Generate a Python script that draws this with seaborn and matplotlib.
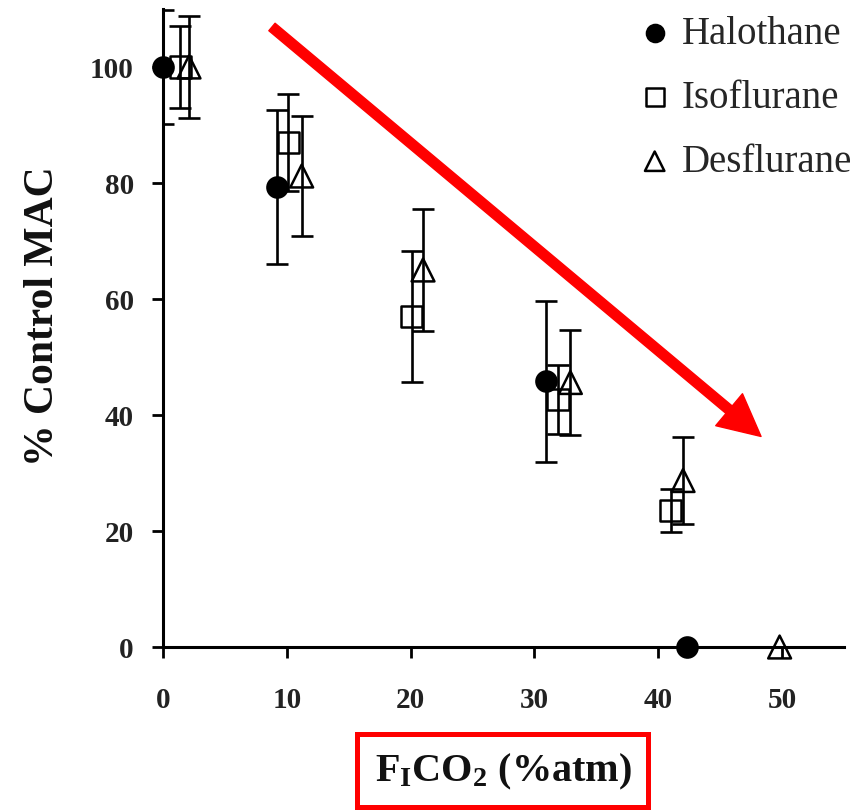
import numpy as np
import pandas as pd
import matplotlib
matplotlib.use("Agg")
import matplotlib.pyplot as plt
from matplotlib.patches import Rectangle
import seaborn as sns

# ---- data ----
halo_x = [0, 9.2, 30.9, 42.3]
halo_y = [100, 79.3, 45.8, 0]
halo_err = [9.8, 13.3, 13.9, 0]

iso_x = [1.4, 10.1, 20.1, 31.9, 41.0]
iso_y = [100, 87.0, 57.0, 42.7, 23.5]
iso_err = [7.0, 8.3, 11.3, 6.0, 3.7]

des_x = [2.1, 11.2, 21.0, 32.9, 42.0, 49.8]
des_y = [100, 81.2, 65.0, 45.6, 28.7, 0]
des_err = [8.8, 10.4, 10.6, 9.0, 7.5, 0]

series_names = ["Halothane", "Isoflurane", "Desflurane"]
x_ticks = [0, 10, 20, 30, 40, 50]
y_ticks = [0, 20, 40, 60, 80, 100]

sns.set_style("white")
plt.rcParams["font.family"] = ["Liberation Serif", "DejaVu Serif"]
plt.rcParams["mathtext.fontset"] = "custom"
plt.rcParams["mathtext.rm"] = "Liberation Serif:bold"
plt.rcParams["mathtext.bf"] = "Liberation Serif:bold"
plt.rcParams["mathtext.it"] = "Liberation Serif:bold"

W, H = 858, 812
fig = plt.figure(figsize=(W / 100, H / 100), dpi=100)
ax = fig.add_axes([163 / W, 1 - 648 / H, (844 - 163) / W, (648 - 10) / H])

data = [
    (halo_x, halo_y, halo_err, "o", "black", 210),
    (iso_x, iso_y, iso_err, "s", "none", 230),
    (des_x, des_y, des_err, "^", "none", 270),
]

for name, (xs, ys, es, mk, fc, sz) in zip(series_names, data):
    xs = np.asarray(xs, float); ys = np.asarray(ys, float); es = np.asarray(es, float)
    m = es > 0
    ax.errorbar(xs[m], ys[m], yerr=es[m], fmt="none", ecolor="black",
                elinewidth=1.9, capsize=8, capthick=1.9, zorder=2)
    df = pd.DataFrame({"x": xs, "y": ys})
    sns.scatterplot(data=df, x="x", y="y", marker=mk, s=sz, facecolor=fc,
                    edgecolor="black", linewidth=1.8, label=name, ax=ax,
                    zorder=3, clip_on=False)

ax.set_xlim(0, 55)
ax.set_ylim(0, 110)
ax.set_xticks(x_ticks)
ax.set_yticks(y_ticks)
ax.set_xticklabels([str(t) for t in x_ticks], fontsize=21, fontweight="bold", color="#222222")
ax.set_yticklabels([str(t) for t in y_ticks], fontsize=21, fontweight="bold", color="#222222")

for s in ["top", "right"]:
    ax.spines[s].set_visible(False)
for s in ["left", "bottom"]:
    ax.spines[s].set_linewidth(2.2)
    ax.spines[s].set_color("black")
ax.tick_params(axis="both", direction="out", length=8, width=2, color="black",
               left=True, bottom=True)
ax.tick_params(axis="x", pad=20)
ax.tick_params(axis="y", pad=13)

ax.set_ylabel("% Control MAC", fontsize=30, fontweight="bold", color="#111111")
ax.yaxis.set_label_coords(-0.149, 0.52)
xl = ax.set_xlabel(r"F$_\mathrm{I}$CO$_2$ (%atm)", fontsize=29, fontweight="bold",
                   color="#111111", va="center")
ax.xaxis.set_label_coords((503 - 163) / 681, (648 - 772) / 638)

# red frame around the x-axis title
fig.add_artist(Rectangle((357 / W, 1 - 808 / H), 291 / W, 73 / H,
                         transform=fig.transFigure, fill=False,
                         edgecolor="red", linewidth=3.6))

ax.annotate("", xy=(48.3, 36.3), xytext=(8.8, 106.9),
            arrowprops=dict(facecolor="red", edgecolor="red", width=7,
                            headwidth=30, headlength=30, shrink=0),
            annotation_clip=False, zorder=5)

leg = ax.legend(loc="upper right", bbox_to_anchor=(1.035, 1.015), frameon=False,
                fontsize=28, handletextpad=0.2, labelspacing=0.7,
                borderaxespad=0.0, handlelength=1.0, markerscale=0.85)

fig.savefig("out.png", dpi=100, facecolor="white")
